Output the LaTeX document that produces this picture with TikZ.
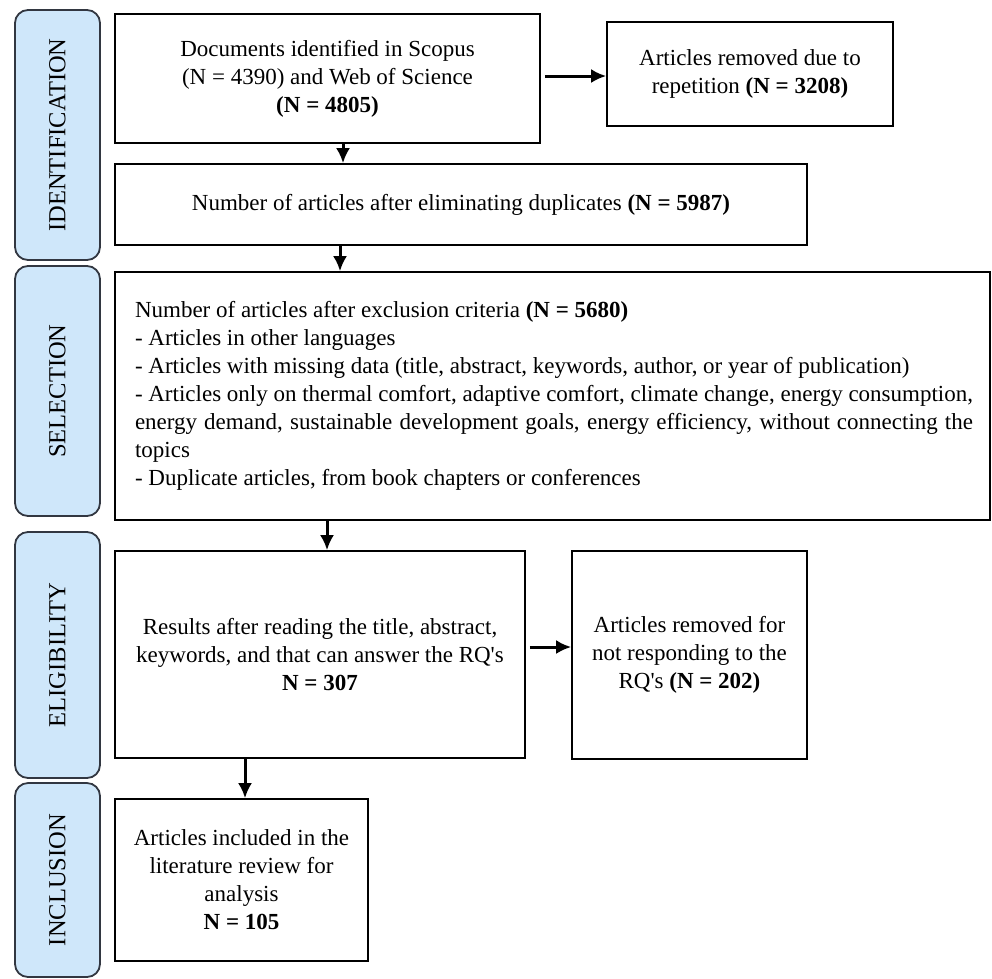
\documentclass[tikz,border=0pt]{standalone}
\usepackage{fontspec}
\setmainfont{Liberation Serif}
\usetikzlibrary{arrows.meta,calc}

\definecolor{phasefill}{RGB}{207,231,250}
\definecolor{phasedraw}{RGB}{50,55,65}

\tikzset{
	box/.style={draw=black, line width=1.6pt, align=center, inner sep=0pt},
	phase/.style={draw=phasedraw, fill=phasefill, line width=1.8pt, rounded corners=13pt,
		rotate=90, minimum height=85pt, inner sep=0pt, font=\fontsize{24.5}{28}\selectfont},
	arr/.style={line width=3pt, -{Latex[length=15pt,width=14pt]}}
}

\begin{document}
\begin{tikzpicture}[x=1pt, y=-1pt, font=\fontsize{23}{28}\selectfont]
	\useasboundingbox (0,0) rectangle (992,978);
	\clip (0,0) rectangle (992,978);
	
	% phase bars on the left
	\node[phase, minimum width=250pt] (pid) at (57.5,135) {IDENTIFICATION};
	\node[phase, minimum width=250pt] (psel) at (57.5,391) {SELECTION};
	\node[phase, minimum width=246pt] (pelig) at (57.5,655) {ELIGIBILITY};
	\node[phase, minimum width=194pt] (pincl) at (57.5,880) {INCLUSION};
	
	% identification
	\node[box, minimum width=425pt, minimum height=129pt] (docs) at (327.5,78.5)
		{Documents identified in Scopus\\(N = 4390) and Web of Science\\\textbf{(N = 4805)}};
	\node[box, minimum width=286pt, minimum height=104pt] (rep) at (750,74)
		{Articles removed due to\\repetition \textbf{(N = 3208)}};
	\node[box, minimum width=692pt, minimum height=81pt] (dup) at (461,204.5)
		{Number of articles after eliminating duplicates \textbf{(N = 5987)}};
	
	% selection
	\node[draw=black, line width=1.6pt, minimum width=875pt, minimum height=248pt] (excl) at (552.5,396) {};
	\node[text width=838pt, align=justify, inner sep=0pt] (crit) at (554,396)
		{Number of articles after exclusion criteria \textbf{(N = 5680)}\par
		- Articles in other languages\par
		- Articles with missing data (title, abstract, keywords, author, or year of publication)\par
		- Articles only on thermal comfort, adaptive comfort, climate change, energy consumption,\linebreak
		energy demand, sustainable development goals, energy efficiency, without connecting the\linebreak
		topics\par
		- Duplicate articles, from book chapters or conferences};
	
	% eligibility
	\node[box, minimum width=410pt, minimum height=207pt] (read) at (320,654.5)
		{Results after reading the title, abstract,\\keywords, and that can answer the RQ\textquotesingle s\\\textbf{N = 307}};
	\node[box, minimum width=235pt, minimum height=208pt] (notrq) at (689.5,655)
		{Articles removed for\\not responding to the\\RQ\textquotesingle s \textbf{(N = 202)}};
	
	% inclusion
	\node[box, minimum width=253pt, minimum height=162pt] (incl) at (241.5,880)
		{Articles included in the\\literature review for\\analysis\\\textbf{N = 105}};
	
	% arrows
	\coordinate (a1) at (343,0);
	\coordinate (a2) at (340,0);
	\coordinate (a3) at (327,0);
	\coordinate (a4) at (245,0);
	\coordinate (h1) at (0,76);
	\coordinate (h2) at (0,647);
	\draw[arr] (docs.south -| a1) -- (dup.north -| a1);
	\draw[arr] (dup.south -| a2) -- (excl.north -| a2);
	\draw[arr] (excl.south -| a3) -- (read.north -| a3);
	\draw[arr] (read.south -| a4) -- (incl.north -| a4);
	\draw[arr, shorten <=4pt] (docs.east |- h1) -- (rep.west |- h1);
	\draw[arr, shorten <=4pt] (read.east |- h2) -- (notrq.west |- h2);
\end{tikzpicture}
\end{document}
